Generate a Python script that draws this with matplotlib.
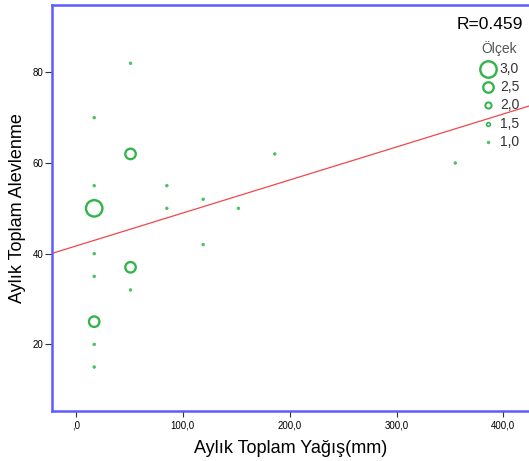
import numpy as np
import matplotlib
matplotlib.use("Agg")
import matplotlib.pyplot as plt
from matplotlib.ticker import FuncFormatter

# monthly rainfall (mm) vs monthly flare-ups, marker size = "Ölçek" value
rain = [17, 17, 17, 17, 17, 17, 17, 17, 51, 51, 51, 51, 85, 85, 119, 119, 152, 186, 355]
flares = [70, 55, 50, 40, 35, 25, 20, 15, 82, 62, 37, 32, 55, 50, 52, 42, 50, 62, 60]
scale = [1, 1, 3, 1, 1, 2.5, 1, 1, 1, 2.5, 2.5, 1, 1, 1, 1, 1, 1, 1, 1]

legend_levels = [3.0, 2.5, 2.0, 1.5, 1.0]
fit_intercept = 41.7
fit_slope = 0.0728
r_text = "R=0.459"

x_ticks = [0, 100, 200, 300, 400]
y_ticks = [20, 40, 60, 80]

GREEN = "#33b44a"
DOT_GREEN = "#4cc060"

plt.rcParams['font.family'] = ['Liberation Sans', 'DejaVu Sans']

# marker look per scale level (px at 100 dpi)
LEVELS = [1.0, 1.5, 2.0, 2.5, 3.0]
OUTER_PX = [3.4, 5.4, 8.2, 12.8, 18.8]
EDGE_PX = [0.8, 1.6, 2.0, 2.3, 2.4]


def marker_style(v):
    v = np.atleast_1d(np.asarray(v, dtype=float))
    outer = np.interp(v, LEVELS, OUTER_PX)
    edge = np.interp(v, LEVELS, EDGE_PX)
    d = (outer - edge) * 72 / 100
    small = v <= 1.0
    face = np.where(small, DOT_GREEN, "none")
    col = np.where(small, DOT_GREEN, GREEN)
    return d ** 2, face, col, edge * 0.72


def comma_fmt(v, pos):
    s = "%.1f" % v
    s = s.replace(".", ",")
    if s.startswith("0,"):
        s = s[1:]
    return s


fig = plt.figure(figsize=(5.29, 4.61), dpi=100)
ax = fig.add_axes([52 / 529, 1 - 411 / 461, 477 / 529, 406 / 461])

ax.set_xlim(-22.5, 424)
ax.set_ylim(5.3, 94.85)

s, fc, ec, lw = marker_style(scale)
ax.scatter(rain, flares, s=s, facecolors=fc, edgecolors=ec, linewidths=lw, zorder=3)

xs = np.array(ax.get_xlim())
ax.plot(xs, fit_intercept + fit_slope * xs, color="#f04848", lw=0.9, zorder=2)

# legend drawn by hand in the top right corner
ax.text(0.987, 0.951, r_text, transform=ax.transAxes, ha="right", va="center",
        fontsize=12.5, color="black")
ax.text(0.937, 0.892, "Ölçek", transform=ax.transAxes, ha="center", va="center",
        fontsize=10, color="#555555")
for i, v in enumerate(legend_levels):
    y = 0.843 - i * 0.045
    s, fc, ec, lw = marker_style(v)
    ax.scatter([0.913], [y], s=s, transform=ax.transAxes, facecolors=fc,
               edgecolors=ec, linewidths=lw, clip_on=False, zorder=4)
    ax.text(0.939, y, comma_fmt(v, None), transform=ax.transAxes, ha="left",
            va="center", fontsize=10, color="#333333")

ax.set_xticks(x_ticks)
ax.set_yticks(y_ticks)
ax.xaxis.set_major_formatter(FuncFormatter(comma_fmt))
ax.tick_params(axis="x", length=4, width=0.8, pad=3, labelsize=7, color="#333333")
ax.tick_params(axis="y", length=5, width=0.8, pad=1, labelsize=7, color="#333333")

for side in ["left", "top", "bottom"]:
    ax.spines[side].set_color("#5c5cff")
    ax.spines[side].set_linewidth(1.8)
ax.spines["right"].set_visible(False)

ax.set_xlabel("Aylık Toplam Yağış(mm)", fontsize=13)
ax.set_ylabel("Aylık Toplam Alevlenme", fontsize=13)
ax.xaxis.set_label_coords(0.5, -0.072)
ax.yaxis.set_label_coords(-0.055, 0.5)

fig.savefig("out.png", dpi=100)
